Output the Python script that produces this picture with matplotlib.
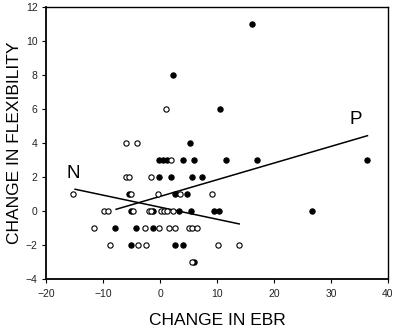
import matplotlib
matplotlib.use("Agg")
import matplotlib.pyplot as plt

plt.rcParams['font.family'] = ['Liberation Sans', 'DejaVu Sans']

# Filled circles
filled_x = [16.2, 2.3, 10.6, 5.3,
            -0.1, 0.6, 1.3, 4.1, 6.0, 11.5, 17.0, 36.4,
            -0.1, 2.0, 5.7, 7.3,
            -5.5, 2.6, 4.7,
            -5.1, -1.2, 3.3, 5.4, 9.4, 10.3, 26.6,
            -7.9, -4.2, -1.2,
            -5.1, 2.7, 4.0,
            6.0]
filled_y = [11, 8, 6, 4,
            3, 3, 3, 3, 3, 3, 3, 3,
            2, 2, 2, 2,
            1, 1, 1,
            0, 0, 0, 0, 0, 0, 0,
            -1, -1, -1,
            -2, -2, -2,
            -3]

# Open circles
open_x = [1.1, -6.0, -4.0, 2.0,
          -6.0, -5.5, -1.6,
          -15.2, -5.1, -0.35, 3.5, 9.2,
          -9.8, -9.2, -4.8, -2.0, -1.6, 0.2, 0.7, 1.2, 2.2,
          -11.5, -2.7, -0.1, 1.5, 2.6, 5.1, 5.7, 6.5,
          -8.8, -3.9, -2.4, 10.1, 13.8,
          5.6]
open_y = [6, 4, 4, 3,
          2, 2, 2,
          1, 1, 1, 1, 1,
          0, 0, 0, 0, 0, 0, 0, 0, 0,
          -1, -1, -1, -1, -1, -1, -1, -1,
          -2, -2, -2, -2, -2,
          -3]

# Regression lines (endpoints)
n_line_x = [-14.9, 13.9]
n_line_y = [1.28, -0.76]
p_line_x = [-7.7, 36.4]
p_line_y = [0.1, 4.43]

fig = plt.figure(figsize=(3.97, 3.29), dpi=100)
ax = fig.add_axes([46/397, 1-279/329, (388-46)/397, (279-7)/329])

ax.plot(n_line_x, n_line_y, color='black', lw=1.1, zorder=2)
ax.plot(p_line_x, p_line_y, color='black', lw=1.1, zorder=2)

ax.plot(filled_x, filled_y, 'o', ms=3.8, mfc='black', mec='black', mew=0.8, ls='none', zorder=3)
ax.plot(open_x, open_y, 'o', ms=3.8, mfc='white', mec='black', mew=0.8, ls='none', zorder=4)

ax.text(-15.2, 2.2, 'N', fontsize=13.5, ha='center', va='center')
ax.text(34.4, 5.4, 'P', fontsize=13.5, ha='center', va='center')

ax.set_xlim(-20, 40)
ax.set_ylim(-4, 12)
ax.set_xticks([-20, -10, 0, 10, 20, 30, 40])
ax.set_yticks([-4, -2, 0, 2, 4, 6, 8, 10, 12])
ax.tick_params(direction='out', length=3, width=0.8, labelsize=7.5, pad=3,
               labelcolor='#222222')
ax.tick_params(axis='x', pad=4)

for s in ['left', 'bottom']:
    ax.spines[s].set_linewidth(1.3)
for s in ['top', 'right']:
    ax.spines[s].set_linewidth(1.0)

ax.set_xlabel('CHANGE IN EBR', fontsize=12.5, labelpad=10)
ax.set_ylabel('CHANGE IN FLEXIBILITY', fontsize=12.5, labelpad=3)

fig.savefig('out.png', dpi=100)
